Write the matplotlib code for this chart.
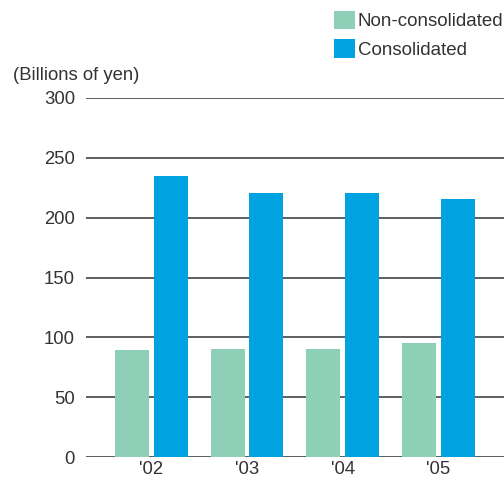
import numpy as np
import matplotlib.pyplot as plt

years = ["'02", "'03", "'04", "'05"]
non_consolidated = [89, 90, 90, 95]
consolidated = [235, 221, 221, 216]
yticks = [0, 50, 100, 150, 200, 250, 300]

GREEN = "#8dcfb7"
BLUE = "#00a3e0"
TXT = "#333333"


def main():
    plt.rcParams['font.family'] = ["Liberation Sans", "DejaVu Sans"]
    fig = plt.figure(figsize=(5.04, 4.82), dpi=100)
    ax = fig.add_axes([86 / 504, 25 / 482, 1 - 86 / 504, 359 / 482])

    x = np.arange(len(years))
    w = 0.355
    ax.bar(x - 0.203, non_consolidated, width=w, color=GREEN, label="Non-consolidated", zorder=3)
    ax.bar(x + 0.200, consolidated, width=w, color=BLUE, label="Consolidated", zorder=3)

    ax.set_xlim(-0.684, 3.683)
    ax.set_ylim(0, 300)
    ax.set_yticks(yticks)
    ax.set_xticks(x)
    ax.set_xticklabels(years)
    for y in yticks:
        ax.axhline(y, color=TXT, lw=1.1, zorder=2)
    for s in ax.spines.values():
        s.set_visible(False)
    ax.tick_params(length=0, labelsize=13.3, labelcolor=TXT)
    ax.tick_params(axis="y", pad=8)
    ax.tick_params(axis="x", pad=3)

    fig.text(13 / 504, 1 - 76 / 482, "(Billions of yen)", fontsize=13.3, color=TXT,
             ha="left", va="center")

    fig.legend(loc="upper left", bbox_to_anchor=(334 / 504, 1 - 11 / 482), frameon=False,
               fontsize=13.5, labelcolor=TXT, handlelength=1.12, handleheight=1.12,
               handletextpad=0.15, labelspacing=0.48, borderpad=0, borderaxespad=0)

    fig.savefig("out.png", dpi=100)


if __name__ == '__main__':
    main()
